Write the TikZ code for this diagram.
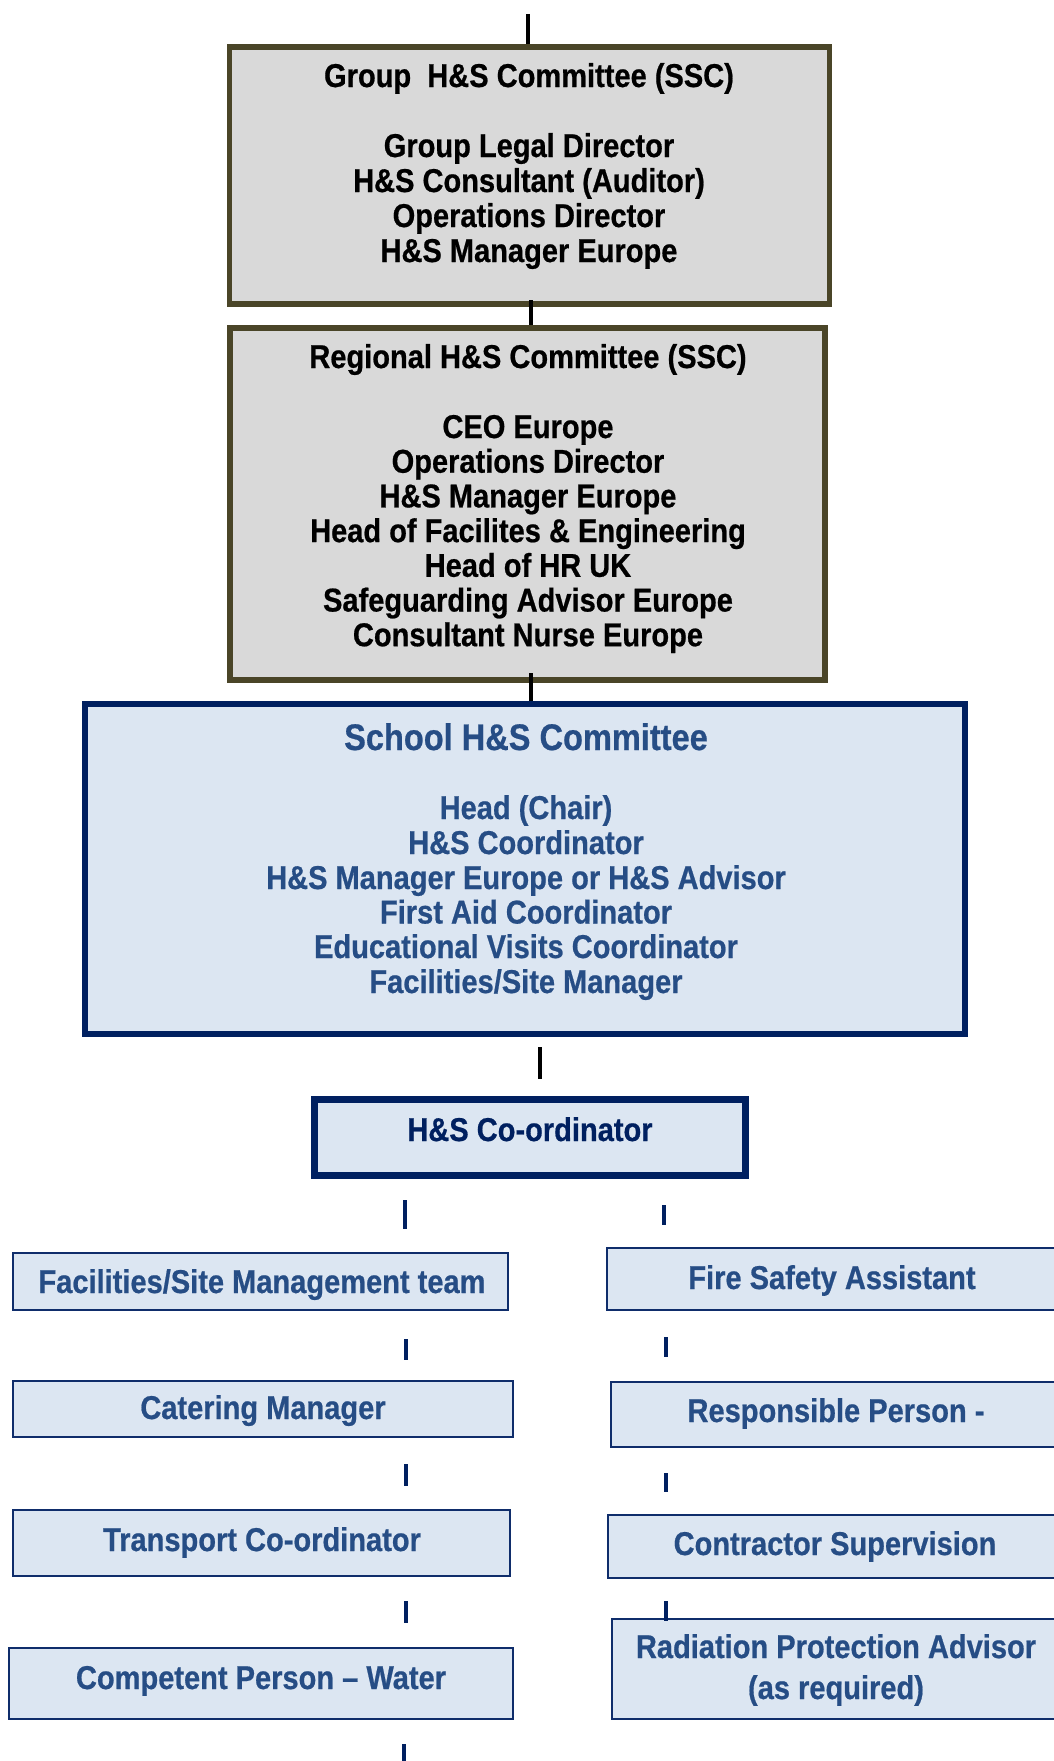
\documentclass[tikz,border=0pt]{standalone}
\usepackage{fontspec}
\setmainfont[FakeStretch=0.88,BoldFeatures={FakeBold=0.6}]{Liberation Sans}
\definecolor{olive}{HTML}{4A4528}
\definecolor{greyfill}{HTML}{D9D9D9}
\definecolor{bluefill}{HTML}{DCE6F2}
\definecolor{navy}{HTML}{002060}
\definecolor{txtblue}{HTML}{264D85}
\definecolor{smallnavy}{HTML}{0F2D6B}
\begin{document}
\begin{tikzpicture}[x=1pt,y=-1pt,
  greybox/.style={draw=olive,fill=greyfill,line width=5.5pt,inner sep=0pt},
  bigblue/.style={draw=navy,fill=bluefill,line width=5.5pt,inner sep=0pt},
  coordbox/.style={draw=navy,fill=bluefill,line width=6.5pt,inner sep=0pt},
  smallbox/.style={draw=smallnavy,fill=bluefill,line width=2.2pt,inner sep=0pt},
  txt/.style={anchor=base,inner sep=0pt,font=\fontsize{33}{35}\selectfont\bfseries},
  btxt/.style={txt,text=txtblue},
  blackline/.style={draw=black,line width=4.5pt},
  navyline/.style={draw=navy,line width=3.5pt}]
\useasboundingbox (0,0) rectangle (1054,1761);
\clip (0,0) rectangle (1054,1761);
\fill[white] (0,0) rectangle (1054,1761);

% boxes
\node[greybox,minimum width=600pt,minimum height=257pt] (b1) at (529.5,175.5) {};
\node[greybox,minimum width=595pt,minimum height=352pt] (b2) at (527.5,504) {};
\node[bigblue,minimum width=880pt,minimum height=330pt] (b3) at (525,869) {};
\node[coordbox,minimum width=431pt,minimum height=76pt] (b4) at (530,1137.5) {};

\node[smallbox,minimum width=495pt,minimum height=57pt] (la) at (260.5,1281.5) {};
\node[smallbox,minimum width=500pt,minimum height=56pt] (lb) at (263,1409) {};
\node[smallbox,minimum width=497pt,minimum height=66pt] (lc) at (261.5,1543) {};
\node[smallbox,minimum width=504pt,minimum height=71pt] (ld) at (261,1683.5) {};
\node[smallbox,minimum width=456pt,minimum height=62pt] (ra) at (835,1279) {};
\node[smallbox,minimum width=452pt,minimum height=65pt] (rb) at (837,1414.5) {};
\node[smallbox,minimum width=455pt,minimum height=63pt] (rc) at (835.5,1546.5) {};
\node[smallbox,minimum width=451pt,minimum height=100pt] (rd) at (837.5,1669) {};

% box 1 text
\node[txt] (t1a) at (529,87) {Group\ \ H\&S Committee (SSC)};
\node[txt] (t1b) at (529,157) {Group Legal Director};
\node[txt] (t1c) at (529,192) {H\&S Consultant (Auditor)};
\node[txt] (t1d) at (529,227) {Operations Director};
\node[txt] (t1e) at (529,262) {H\&S Manager Europe};

% box 2 text
\node[txt] (t2a) at (528,368) {Regional H\&S Committee (SSC)};
\node[txt] (t2b) at (528,438) {CEO Europe};
\node[txt] (t2c) at (528,472.7) {Operations Director};
\node[txt] (t2d) at (528,507.4) {H\&S Manager Europe};
\node[txt] (t2e) at (528,542.1) {Head of Facilites \& Engineering};
\node[txt] (t2f) at (528,576.8) {Head of HR UK};
\node[txt] (t2g) at (528,611.5) {Safeguarding Advisor Europe};
\node[txt] (t2h) at (528,646.2) {Consultant Nurse Europe};

% box 3 text
\node[btxt,font=\fontsize{37}{40}\selectfont\bfseries] (t3a) at (526,750) {School H\&S Committee};
\node[btxt] (t3b) at (526,819) {Head (Chair)};
\node[btxt] (t3c) at (526,854) {H\&S Coordinator};
\node[btxt] (t3d) at (526,889) {H\&S Manager Europe or H\&S Advisor};
\node[btxt] (t3e) at (526,923.5) {First Aid Coordinator};
\node[btxt] (t3f) at (526,958) {Educational Visits Coordinator};
\node[btxt] (t3g) at (526,993) {Facilities/Site Manager};

% box 4 text
\node[txt,text=navy] (t4) at (530,1141) {H\&S Co-ordinator};

% small boxes text
\node[btxt] (tla) at (262,1293) {Facilities/Site Management team};
\node[btxt] (tlb) at (263,1419) {Catering Manager};
\node[btxt] (tlc) at (262,1551) {Transport Co-ordinator};
\node[btxt] (tld) at (261,1689) {Competent Person -- Water};
\node[btxt] (tra) at (832,1289) {Fire Safety Assistant};
\node[btxt] (trb) at (836,1422) {Responsible Person -};
\node[btxt] (trc) at (835,1555) {Contractor Supervision};
\node[btxt] (trd1) at (836,1658) {Radiation Protection Advisor};
\node[btxt] (trd2) at (836,1699) {(as required)};

% black connectors
\coordinate (top) at (528,14);
\draw[blackline] (top) -- (top |- b1.north);
\coordinate (c1a) at (531,300);
\draw[blackline] (c1a) -- (c1a |- b2.north);
\coordinate (c2a) at (531,673);
\draw[blackline] (c2a) -- (c2a |- b3.north);
\coordinate (c3a) at (540,1047);
\coordinate (c3b) at (540,1079);
\draw[blackline] (c3a) -- (c3b);

% navy short connectors
\coordinate (l1a) at (405,1200); \coordinate (l1b) at (405,1229);
\coordinate (r1a) at (664,1205); \coordinate (r1b) at (664,1225);
\coordinate (l2a) at (406,1339); \coordinate (l2b) at (406,1360);
\coordinate (r2a) at (666,1337); \coordinate (r2b) at (666,1357);
\coordinate (l3a) at (406,1464); \coordinate (l3b) at (406,1486);
\coordinate (r3a) at (666,1473); \coordinate (r3b) at (666,1492);
\coordinate (l4a) at (406,1601); \coordinate (l4b) at (406,1623);
\coordinate (r4a) at (666,1601); \coordinate (r4b) at (666,1621);
\coordinate (l5a) at (404,1744); \coordinate (l5b) at (404,1761);
\foreach \a/\b in {l1a/l1b,r1a/r1b,l2a/l2b,r2a/r2b,l3a/l3b,r3a/r3b,l4a/l4b,r4a/r4b,l5a/l5b}
  \draw[navyline] (\a) -- (\b);
\end{tikzpicture}
\end{document}
